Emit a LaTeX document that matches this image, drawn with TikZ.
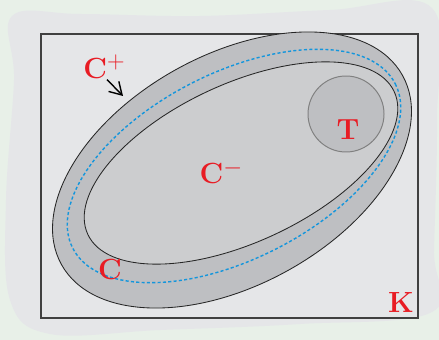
\documentclass[tikz,border=0pt]{standalone}
\usepackage{tikz}
\usetikzlibrary{arrows.meta}

\definecolor{pagebg}{RGB}{232,240,232}
\definecolor{blobgray}{RGB}{229,230,232}
\definecolor{ringgray}{RGB}{190,191,194}
\definecolor{coregray}{RGB}{204,205,207}
\definecolor{labelred}{RGB}{232,28,36}
\definecolor{pathblue}{RGB}{20,150,220}

\begin{document}
\begin{tikzpicture}[x=0.025cm, y=-0.025cm, font=\huge\bfseries,
  lbl/.style={text=labelred, inner sep=1pt},
  contour/.style={draw=black!85, line width=0.6pt},
  >={Straight Barb[length=3mm, width=3.6mm]}]
\useasboundingbox (0,0) rectangle (439,340);
\fill[pagebg] (0,0) rectangle (439,340);
% backdrop
\fill[blobgray] plot[smooth cycle, tension=0.6] coordinates {(12,16) (80,14) (200,16) (330,10) (432,8) (437,120) (434,250) (432,312) (300,324) (160,330) (50,334) (10,300) (6,200) (14,80)};
\draw[draw=black!75, line width=0.8pt, fill=blobgray] (41,34) rectangle (418,318);
% set C^+ and C^-
\filldraw[contour, fill=ringgray, rotate around={29:(232,170)}] (232,170) ellipse [x radius=195, y radius=115];
\filldraw[contour, fill=coregray, rotate around={25:(241,163)}] (241,163) ellipse [x radius=169, y radius=79];
\filldraw[draw=black!50, line width=0.7pt, fill=ringgray] (346,114) circle (38);
\draw[pathblue, dash pattern=on 2.2pt off 1.6pt, line width=1pt, rotate around={27:(234,166)}] (234,166) ellipse [x radius=181, y radius=93];
% labels
\node[lbl] (cplus) at (104,67) {C\raisebox{0.75ex}{\normalfont\LARGE +}};
\node[lbl] (cminus) at (221,172) {C\raisebox{0.75ex}{\normalfont\LARGE $-$}};
\node[lbl] (tset) at (348,130) {T};
\node[lbl] (cset) at (110,269) {C};
\node[lbl] (kset) at (401,302) {K};
\coordinate (edge) at (123,96);
\draw[->, line width=1pt] (cplus.south) ++(3,-1) -- (edge);
\end{tikzpicture}
\end{document}
